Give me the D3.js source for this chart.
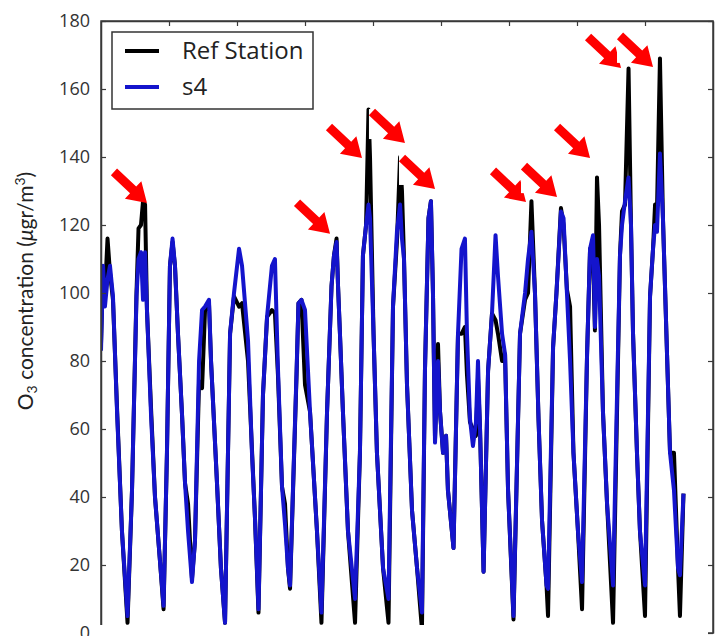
<!DOCTYPE html>
<html>
<head>
<meta charset="utf-8">
<script src="https://cdn.jsdelivr.net/npm/d3@7"></script>
<style>
  body { margin: 0; background: #fff; }
  svg { display: block; }
</style>
</head>
<body>
<div id="chart"></div>
<script>
// canvas and plot frame
const width = 728;
const height = 636;
const plotLeft = 101;
const plotTop = 21;
const plotSize = 612;

// time axis (hours since start) and y ticks
const xDomain = [0, 450];
const xTicks = [50, 100, 150, 200, 250, 300, 350, 400];
const yTicks = [0, 20, 40, 60, 80, 100, 120, 140, 160, 180];

// series: hour, reference station, sensor s4
const hours = [
  0, 1.5, 2.9, 4.8, 6.6, 8.8, 11.8, 15.4, 19.5,
  22.8, 26.1, 27.6, 29.4, 30.9, 32.4, 33.8, 36.8, 39.7, 43.4, 46,
  48.5, 50.7, 52.6, 54.4, 56.6, 59.6, 61.8, 64, 66.9, 69.1,
  72.1, 74.3, 76.5, 79.4, 80.9, 85.3, 88.2, 91.2,
  94.9, 97.8, 101.5, 103.7, 108.1, 111, 113.2, 115.8,
  119.1, 122.1, 125.7, 127.9, 130.1, 133.1, 135.3, 137.5, 139,
  143.8, 145.2, 147.4, 150, 153.7, 158.8, 162.1,
  166.2, 169.5, 171.3, 173.2, 174.3, 175.7, 177.9, 181.6, 186.8,
  190.4, 192.6, 194.9, 196.7, 197.8, 200.4, 202.9, 207.4, 211.4,
  214.7, 217.6, 219.9, 221.3, 222.8, 225, 228.7, 232.4, 236,
  238.2, 240.8, 242.6, 244.1, 245.6, 247.8, 249.3, 251.5, 253.7, 255.1, 259.2,
  262.5, 265.1, 267.6, 269.1, 271.3, 273.5, 275.7, 277.2, 278.7, 281.3,
  284.6, 287.5, 290.1, 291.9, 294.9, 297.1, 299.3, 303.3,
  308.1, 311.8, 314, 316.5, 319.1, 321.7, 324.3, 327.6, 328.7,
  332.4, 334.9, 338.2, 340.1, 342.6, 344.9, 347.4, 350.7, 353.7,
  357.4, 359.6, 361.8, 363.2, 364.7, 366.2, 369.1, 372.1, 376.5,
  381.6, 383.1, 385.3, 387.9, 389.7, 391.2, 394.1, 396.3, 400,
  403.7, 405.9, 407.4, 408.8, 411, 413.2, 416.2, 418.4, 421.3, 424.3, 425.7, 428.3
];

const refStation = [
  85, 107, 100, 116, 106, 98, 66, 30, 3,
  42, 100, 119, 120, 127, 126, 95, 66, 40, 21, 7,
  53, 108, 115, 108, 88, 64, 44, 38, 16, 27,
  74, 72, 95, 97, 80, 44, 19, 3,
  88, 99, 96, 97, 80, 54, 34, 6,
  70, 93, 95, 94, 76, 43, 38, 19, 13,
  76, 97, 98, 73, 65, 30, 3,
  65, 102, 111, 116, 102, 88, 65, 30, 3,
  53, 111, 120, 154, 140, 88, 53, 19, 3,
  96, 115, 140, 130, 110, 73, 36, 19, 1,
  77, 122, 127, 100, 57, 85, 65, 53, 58, 42, 25,
  88, 88, 90, 76, 62, 60, 58, 75, 60, 18,
  77, 94, 92, 88, 80, 82, 42, 4,
  88, 98, 100, 127, 100, 63, 33, 14, 5,
  84, 100, 125, 120, 101, 96, 53, 30, 7,
  82, 113, 110, 89, 134, 120, 65, 38, 3,
  111, 124, 126, 166, 120, 88, 53, 30, 5,
  99, 113, 126, 124, 169, 122, 82, 53, 53, 19, 5, 41
];

const s4 = [
  83, 108, 96, 104, 108, 99, 65, 30, 5,
  42, 99, 110, 112, 98, 112, 95, 64, 40, 21, 8,
  53, 108, 116, 108, 88, 64, 44, 30, 15, 27,
  80, 95, 96, 98, 80, 44, 19, 3,
  88, 100, 113, 108, 86, 53, 34, 7,
  70, 93, 108, 110, 78, 43, 32, 19, 14,
  77, 97, 98, 95, 65, 30, 6,
  65, 102, 111, 115, 102, 88, 65, 30, 10,
  53, 111, 120, 126, 122, 88, 53, 19, 10,
  96, 118, 126, 116, 110, 73, 36, 19, 6,
  77, 122, 127, 100, 56, 80, 65, 53, 58, 42, 25,
  88, 113, 116, 88, 63, 55, 62, 80, 60, 18,
  77, 94, 117, 105, 88, 82, 42, 5,
  88, 100, 110, 118, 100, 63, 33, 14, 13,
  84, 100, 124, 122, 100, 80, 53, 30, 15,
  82, 113, 117, 90, 110, 105, 65, 38, 14,
  111, 120, 127, 134, 120, 88, 53, 30, 14,
  99, 113, 120, 118, 141, 122, 82, 53, 42, 19, 17, 41
];

// red arrow tips, in data units (hour, value)
const arrowHours = [33.8, 168.4, 191.9, 223.5, 245.6, 312.5, 335.3, 359.6, 382.4, 405.9];
const arrowValues = [126.5, 117.4, 139.7, 144.1, 130.6, 126.8, 128.2, 139.7, 166.2, 166.5];

// legend entries
const seriesNames = ["Ref Station", "s4"];
const seriesColors = ["#000000", "#1414cc"];

const x = d3.scaleLinear().domain(xDomain).range([plotLeft, plotLeft + plotSize]);
const y = d3.scaleLinear().domain([0, 180]).range([plotTop + plotSize, plotTop]);

const svg = d3.select("#chart")
  .append("svg")
  .attr("width", width)
  .attr("height", height);

svg.append("defs").append("clipPath")
  .attr("id", "plotClip")
  .append("rect")
  .attr("x", plotLeft)
  .attr("y", plotTop)
  .attr("width", plotSize)
  .attr("height", plotSize);

// lines: reference first, sensor drawn over it
const line = d3.line()
  .x((d) => x(d[0]))
  .y((d) => y(d[1]));

const seriesData = [
  hours.map((h, i) => [h, refStation[i]]),
  hours.map((h, i) => [h, s4[i]])
];

svg.append("g")
  .attr("clip-path", "url(#plotClip)")
  .selectAll("path")
  .data(seriesData)
  .enter()
  .append("path")
  .attr("d", line)
  .attr("fill", "none")
  .attr("stroke", (d, i) => seriesColors[i])
  .attr("stroke-width", 4)
  .attr("stroke-linejoin", "round");

// axes with inward ticks (matplotlib classic look)
const axisColor = "#3a3a3a";

const leftAxis = svg.append("g")
  .attr("transform", `translate(${plotLeft},0)`)
  .call(d3.axisLeft(y).tickValues(yTicks).tickSizeInner(-5).tickSizeOuter(0).tickPadding(11));

const rightAxis = svg.append("g")
  .attr("transform", `translate(${plotLeft + plotSize},0)`)
  .call(d3.axisRight(y).tickValues(yTicks).tickSizeInner(-5).tickSizeOuter(0).tickFormat(""));

const topAxis = svg.append("g")
  .attr("transform", `translate(0,${plotTop})`)
  .call(d3.axisTop(x).tickValues(xTicks).tickSizeInner(-5).tickSizeOuter(0).tickFormat(""));

[leftAxis, rightAxis, topAxis].forEach((g) => {
  g.select(".domain").attr("stroke", axisColor).attr("stroke-width", 1.5);
  g.selectAll(".tick line").attr("stroke", axisColor).attr("stroke-width", 1.2);
});

leftAxis.selectAll(".tick text")
  .attr("fill", "#333")
  .style("font-family", "'Open Sans', sans-serif")
  .style("font-size", "18px");

// frame
svg.append("rect")
  .attr("x", plotLeft)
  .attr("y", plotTop)
  .attr("width", plotSize)
  .attr("height", plotSize)
  .attr("fill", "none")
  .attr("stroke", axisColor)
  .attr("stroke-width", 1.5);

// red arrows (pasted images with white backgrounds)
const arrowDx = 33;
const arrowDy = 31;
const arrows = svg.append("g");
arrowHours.forEach((h, i) => {
  const tx = x(h);
  const ty = y(arrowValues[i]);
  arrows.append("rect")
    .attr("x", tx - arrowDx - 3)
    .attr("y", ty - arrowDy - 3)
    .attr("width", arrowDx - 1)
    .attr("height", arrowDy - 1)
    .attr("fill", "#fff");

  const len = Math.hypot(arrowDx, arrowDy);
  const ux = arrowDx / len, uy = arrowDy / len;
  const px = -uy, py = ux;
  const headLen = 19, headW = 12, shaftW = 4.5;
  const sx = tx - ux * len, sy = ty - uy * len;
  const bx = tx - ux * headLen, by = ty - uy * headLen;
  const pts = [
    [sx + px * shaftW, sy + py * shaftW],
    [bx + px * shaftW, by + py * shaftW],
    [bx + px * headW, by + py * headW],
    [tx, ty],
    [bx - px * headW, by - py * headW],
    [bx - px * shaftW, by - py * shaftW],
    [sx - px * shaftW, sy - py * shaftW]
  ];
  arrows.append("polygon")
    .attr("points", pts.map((p) => p.join(",")).join(" "))
    .attr("fill", "#ff0000");
});

// white patch hiding the bottom of the plot
svg.append("rect")
  .attr("x", plotLeft - 1)
  .attr("y", 625)
  .attr("width", 608)
  .attr("height", height - 625)
  .attr("fill", "#fff");

// legend
const legend = svg.append("g");
legend.append("rect")
  .attr("x", 112)
  .attr("y", 32)
  .attr("width", 201)
  .attr("height", 77)
  .attr("fill", "#fff")
  .attr("stroke", "#333")
  .attr("stroke-width", 1.5);

seriesNames.forEach((name, i) => {
  const ly = 51 + i * 36;
  legend.append("line")
    .attr("x1", 125).attr("x2", 159)
    .attr("y1", ly).attr("y2", ly)
    .attr("stroke", seriesColors[i])
    .attr("stroke-width", 4);
  legend.append("text")
    .attr("x", 182)
    .attr("y", ly + 8)
    .attr("fill", "#222")
    .style("font-family", "'Open Sans', sans-serif")
    .style("font-size", "24px")
    .text(name);
});

// y-axis label
const ylab = svg.append("text")
  .attr("transform", "translate(33,291) rotate(-90)")
  .attr("text-anchor", "middle")
  .attr("fill", "#222")
  .style("font-family", "Lato, sans-serif")
  .style("font-size", "21px");
ylab.append("tspan").text("O");
ylab.append("tspan").attr("baseline-shift", "-25%").style("font-size", "14px").text("3");
ylab.append("tspan").text(" concentration (");
ylab.append("tspan").style("font-style", "italic").text("\u03bc");
ylab.append("tspan").text("gr/m");
ylab.append("tspan").attr("baseline-shift", "super").style("font-size", "14px").text("3");
ylab.append("tspan").text(")");
</script>
</body>
</html>
